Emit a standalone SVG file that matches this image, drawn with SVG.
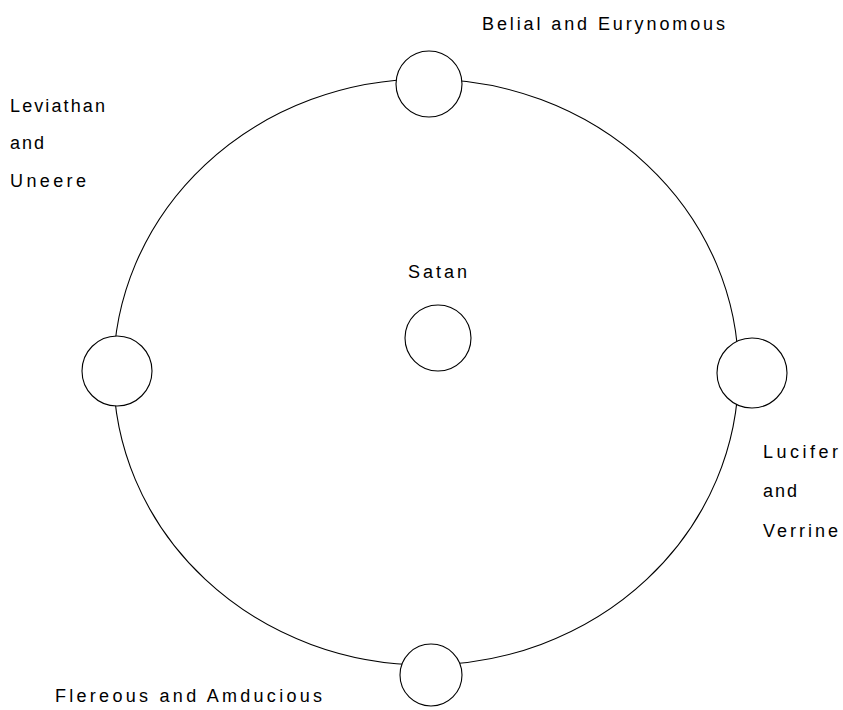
<svg xmlns="http://www.w3.org/2000/svg" width="843" height="710" viewBox="0 0 843 710">
<style>
.n{fill:#fff;stroke:#000;stroke-width:1.1}
.c{fill:none;stroke:#000;stroke-width:1.1}
text{font-family:"Liberation Sans","DejaVu Sans",sans-serif;font-size:18px;fill:#000}
</style>
<rect width="843" height="710" fill="#fff"/>
<g id="connectors">
<ellipse class="c" cx="426" cy="372" rx="312.5" ry="293"/>
</g>
<g id="satan">
<circle class="n" cx="438" cy="338" r="33"/>
<text x="408" y="278" textLength="59" lengthAdjust="spacing">Satan</text>
</g>
<g id="belial">
<circle class="n" cx="429" cy="84" r="33"/>
<text x="482" y="30" textLength="243" lengthAdjust="spacing">Belial and Eurynomous</text>
</g>
<g id="leviathan">
<circle class="n" cx="117" cy="371" r="35"/>
<text x="10" y="112" textLength="95" lengthAdjust="spacing">Leviathan</text>
<text x="10" y="149" textLength="34" lengthAdjust="spacing">and</text>
<text x="10" y="187" textLength="76" lengthAdjust="spacing">Uneere</text>
</g>
<g id="lucifer">
<circle class="n" cx="752" cy="373" r="35"/>
<text x="763" y="458" textLength="75" lengthAdjust="spacing">Lucifer</text>
<text x="763" y="497" textLength="34" lengthAdjust="spacing">and</text>
<text x="763" y="537" textLength="75" lengthAdjust="spacing">Verrine</text>
</g>
<g id="flereous">
<circle class="n" cx="431" cy="675" r="31"/>
<text x="55" y="702" textLength="267" lengthAdjust="spacing">Flereous and Amducious</text>
</g>
</svg>
